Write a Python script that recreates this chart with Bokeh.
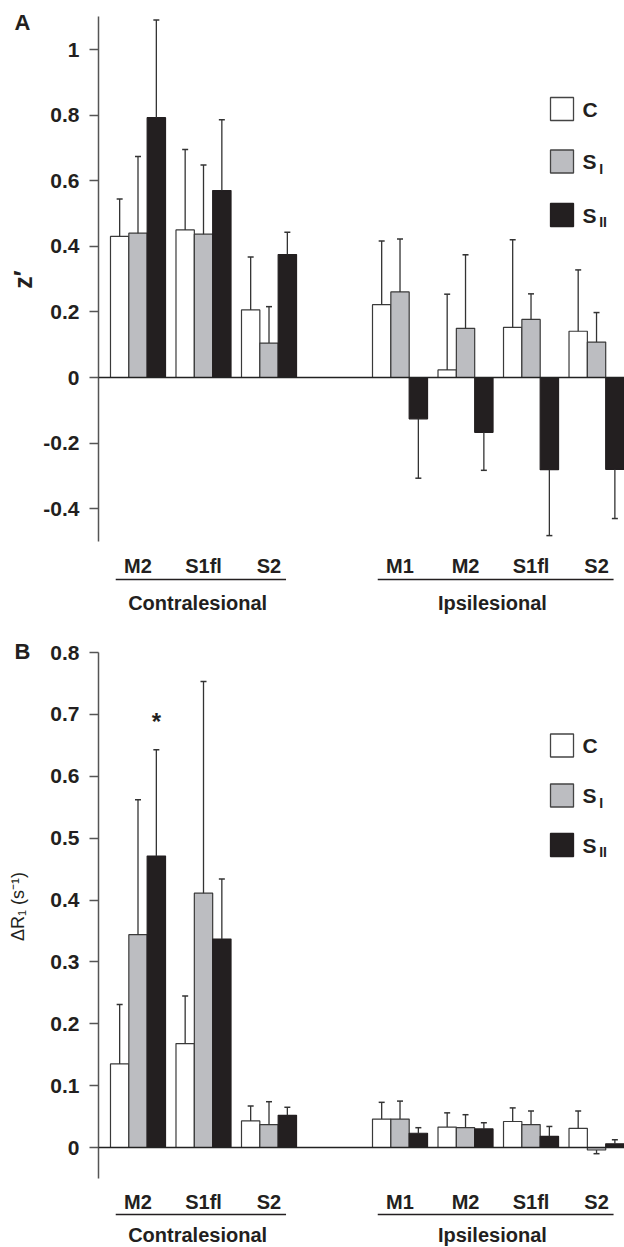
import numpy as np
from bokeh.plotting import figure
from bokeh.models import Span, FixedTicker, Range1d
from bokeh.layouts import column, row
from bokeh.embed import file_html
from bokeh.resources import INLINE
from bokeh.core.properties import value

# ---------------- data ----------------
contra_regions = ["M2", "S1fl", "S2"]
ipsi_regions = ["M1", "M2", "S1fl", "S2"]
hemispheres = ["Contralesional", "Ipsilesional"]
group_names = ["C", "S", "S"]
group_subs = ["", "I", "II"]

# Panel A: z'  (order: contra M2, S1fl, S2, ipsi M1, M2, S1fl, S2)
a_c = [0.430, 0.450, 0.206, 0.222, 0.023, 0.153, 0.141]
a_c_sd = [0.114, 0.245, 0.161, 0.194, 0.231, 0.267, 0.187]
a_si = [0.440, 0.437, 0.105, 0.261, 0.150, 0.177, 0.108]
a_si_sd = [0.234, 0.211, 0.111, 0.161, 0.224, 0.078, 0.090]
a_sii = [0.792, 0.570, 0.375, -0.126, -0.167, -0.281, -0.280]
a_sii_sd = [0.298, 0.216, 0.068, 0.181, 0.116, 0.201, 0.150]
a_ticks = [-0.4, -0.2, 0, 0.2, 0.4, 0.6, 0.8, 1]
a_tick_labels = ["-0.4", "-0.2", "0", "0.2", "0.4", "0.6", "0.8", "1"]

# Panel B: delta R1 (s^-1)
b_c = [0.135, 0.168, 0.043, 0.046, 0.033, 0.042, 0.031]
b_c_sd = [0.096, 0.077, 0.024, 0.027, 0.023, 0.022, 0.028]
b_si = [0.344, 0.411, 0.037, 0.046, 0.032, 0.037, -0.004]
b_si_sd = [0.218, 0.342, 0.037, 0.029, 0.021, 0.022, 0.006]
b_sii = [0.471, 0.337, 0.052, 0.023, 0.030, 0.018, 0.006]
b_sii_sd = [0.172, 0.097, 0.013, 0.009, 0.010, 0.016, 0.0065]
b_ticks = [0, 0.1, 0.2, 0.3, 0.4, 0.5, 0.6, 0.7, 0.8]
b_tick_labels = ["0", "0.1", "0.2", "0.3", "0.4", "0.5", "0.6", "0.7", "0.8"]
b_signif = [0]  # asterisk over the S_II bar of contralesional M2

# ---------------- layout / style ----------------
FONT = value("Liberation Sans")
INK = "#231f20"
fills = ["#ffffff", "#bcbdc1", "#231f20"]
outlines = ["#3a3a3a", "#3a3a3a", "#231f20"]
BW = 0.28
offsets = [-BW, 0.0, BW]

contra_pos = list(range(len(contra_regions)))
ipsi_pos = [len(contra_regions) + 1 + i for i in range(len(ipsi_regions))]
positions = contra_pos + ipsi_pos
region_labels = contra_regions + ipsi_regions

X_RANGE = (-0.603, 7.427)
STRIP_W = 40
MAIN_LEFT = 58


def make_panel(series, sds, ticks, tick_labels, bounds, y_bottom, H, fig_top,
               px, zero_px, lab_px, line_px, hemi_px, legend_px, letter, ylabel,
               ylabel_font, ylabel_style, ylabel_px):
    def yv(ref_y):
        return (zero_px - ref_y) / px

    # frame spans the whole figure height; the y axis line is limited by bounds
    yr = Range1d(yv(y_bottom), yv(fig_top))

    p = figure(width=MAIN_LEFT + 526, height=H, frame_width=526, frame_height=H,
               x_range=X_RANGE, y_range=yr, x_axis_location=None, title_location=None,
               output_backend="svg", toolbar_location=None,
               min_border_left=MAIN_LEFT, min_border_right=0, min_border_top=0,
               min_border_bottom=0)
    p.outline_line_color = None
    p.grid.visible = False
    p.background_fill_color = "white"
    p.border_fill_color = "white"

    ax = p.yaxis[0]
    ax.ticker = FixedTicker(ticks=ticks)
    ax.major_label_overrides = {t: l for t, l in zip(ticks, tick_labels)}
    ax.bounds = bounds
    ax.axis_line_color = "#555555"
    ax.axis_line_width = 1.5
    ax.major_tick_line_color = "#555555"
    ax.major_tick_line_width = 1.5
    ax.major_tick_out = 9
    ax.major_tick_in = 0
    ax.minor_tick_line_color = None
    ax.major_label_standoff = 10
    ax.major_label_text_font = "Liberation Sans"
    ax.major_label_text_font_style = "bold"
    ax.major_label_text_font_size = "21px"
    ax.major_label_text_color = INK

    for k in range(3):
        xs = [x + offsets[k] for x in positions]
        vals = series[k]
        p.vbar(x=xs, top=vals, bottom=0, width=BW, fill_color=fills[k],
               line_color=outlines[k], line_width=1.2)
        ends = [v + (sd if v >= 0 else -sd) for v, sd in zip(vals, sds[k])]
        p.segment(x0=xs, y0=vals, x1=xs, y1=ends, line_color="#333333", line_width=1.3)
        p.scatter(x=xs, y=ends, marker="dash", size=6, line_color="#333333", line_width=1.5)

    p.add_layout(Span(location=0, dimension="width", line_color="#222222", line_width=1.3))

    # category labels
    p.text(x=positions, y=[yv(lab_px)] * len(positions), text=region_labels,
           text_font=FONT, text_font_style="bold", text_font_size="20px",
           text_align="center", text_baseline="middle", text_color=INK)
    # hemisphere underlines and labels
    spans = [contra_pos, ipsi_pos]
    x0 = [s[0] - 0.34 for s in spans]
    x1 = [s[-1] + 0.26 for s in spans]
    p.segment(x0=x0, y0=[yv(line_px)] * 2, x1=x1, y1=[yv(line_px)] * 2,
              line_color=INK, line_width=1.3)
    p.text(x=[(a + b) / 2 - 0.05 for a, b in zip(x0, x1)], y=[yv(hemi_px)] * 2,
           text=hemispheres, text_font=FONT, text_font_style="bold",
           text_font_size="20px", text_align="center", text_baseline="middle",
           text_color=INK)

    # legend
    lx = 6.473
    ly = [yv(v) for v in legend_px]
    p.scatter(x=[lx] * 3, y=ly, marker="square", size=23, fill_color=fills,
              line_color=["#444444", "#444444", INK], line_width=1.3)
    tx = 6.786
    p.text(x=[tx] * 3, y=ly, text=group_names, text_font=FONT, text_font_style="bold",
           text_font_size="21px", text_align="left", text_baseline="middle",
           text_color=INK)
    p.text(x=[tx + 0.255] * 2, y=[yv(v + 7) for v in legend_px[1:]], text=group_subs[1:],
           text_font=FONT, text_font_style="bold", text_font_size="14px",
           text_align="left", text_baseline="middle", text_color=INK)

    # left strip sharing the y range (its frame is aligned with the panel's frame)
    s = figure(width=STRIP_W, height=H, frame_width=STRIP_W, frame_height=H,
               x_range=Range1d(0, STRIP_W), y_range=yr,
               x_axis_location=None, y_axis_location=None, title_location=None,
               output_backend="svg", toolbar_location=None,
               min_border_left=0, min_border_right=0, min_border_top=0,
               min_border_bottom=0)
    s.outline_line_color = None
    s.grid.visible = False
    s.border_fill_color = "white"
    s.text(x=[22], y=[yv(letter[1])], text=[letter[0]], text_font=FONT,
           text_font_style="bold", text_font_size="22px", text_align="center",
           text_baseline="middle", text_color=INK)
    s.text(x=[ylabel_px[0]], y=[yv(ylabel_px[1])], text=[ylabel], angle=np.pi / 2,
           text_font=FONT, text_font_style=ylabel_style, text_font_size=ylabel_font,
           text_align="center", text_baseline="middle", text_color=INK)
    return row(s, p), p, yv


row_a, pa, yva = make_panel([a_c, a_si, a_sii], [a_c_sd, a_si_sd, a_sii_sd], a_ticks,
                            a_tick_labels, (-0.5, 1.1), 626, 626, 0,
                            328, 377, 565, 579, 602, [108.5, 161, 214.5], ("A", 22),
                            "z\u2032", "25px", "bold", (22, 279))

row_b, pb, yvb = make_panel([b_c, b_si, b_sii], [b_c_sd, b_si_sd, b_sii_sd], b_ticks,
                            b_tick_labels, (-0.05, 0.8), 1247, 621, 626,
                            618.75, 1147, 1201, 1214, 1234, [745, 795, 844.5],
                            ("B", 651), "\u0394R\u2081 (s\u207b\u00b9)", "18px", "normal",
                            (17, 906))

# significance asterisk
sig_x = [positions[i] + offsets[2] for i in b_signif]
sig_y = [b_sii[i] + b_sii_sd[i] + 0.045 for i in b_signif]
pb.text(x=sig_x, y=sig_y, text=["*"] * len(sig_x), text_font=FONT, text_font_style="bold",
        text_font_size="24px", text_align="center", text_baseline="middle", text_color=INK)

layout = column(row_a, row_b)
open("out.html", "w").write(file_html(layout, INLINE))
